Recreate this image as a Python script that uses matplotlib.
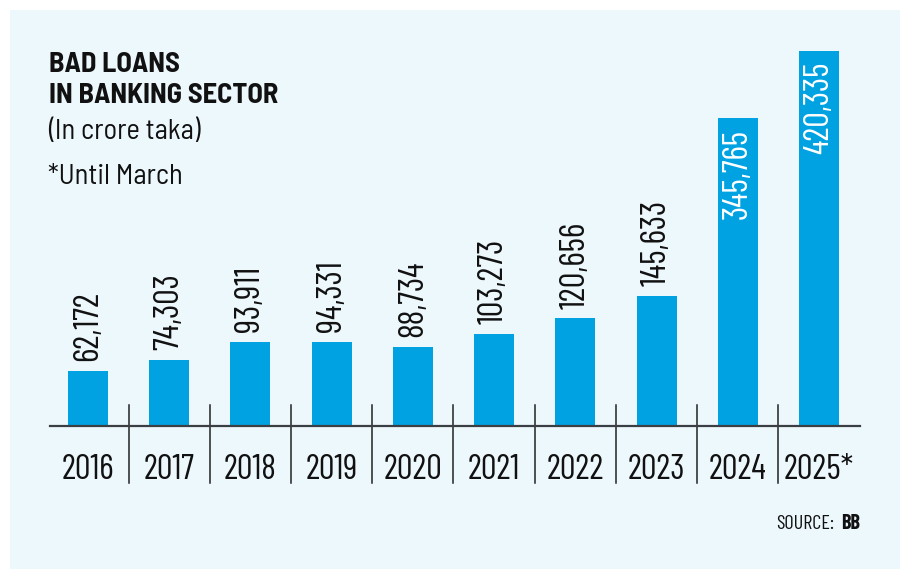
import matplotlib
matplotlib.use("Agg")
import matplotlib.pyplot as plt
from matplotlib.patches import Rectangle

years = ["2016", "2017", "2018", "2019", "2020", "2021", "2022", "2023", "2024", "2025*"]
bad_loans = [62172, 74303, 93911, 94331, 88734, 103273, 120656, 145633, 345765, 420335]
inside_label = [False] * 8 + [True, True]

plt.rcParams['font.family'] = ['Barlow Condensed', 'DejaVu Sans']
TITLE_FONT = ['Barlow Semi Condensed', 'Barlow Condensed', 'DejaVu Sans']

W, H = 910, 580
BAR = '#00a2e2'
PANEL = '#edf8fd'
INK = '#111111'

fig = plt.figure(figsize=(W / 100, H / 100), dpi=100)
fig.patch.set_facecolor('white')
fig.patches.append(Rectangle((10 / W, 11 / H), 890 / W, 559 / H,
                             transform=fig.transFigure, facecolor=PANEL,
                             edgecolor='none', zorder=-10))

# axes in pixel terms: baseline y=426, top y=40, x from 50 to 860
ax = fig.add_axes([50 / W, (H - 426) / H, 810 / W, 386 / H])
ax.set_facecolor('none')
x = list(range(len(years)))
ax.bar(x, bad_loans, width=0.493, color=BAR, zorder=2)
ax.set_xlim(-0.468, 9.505)
ax.set_ylim(0, 420335 * 386 / 375)

for s in ['top', 'right', 'left']:
    ax.spines[s].set_visible(False)
ax.spines['bottom'].set_color('#3a3f44')
ax.spines['bottom'].set_linewidth(1.6)
ax.set_xticks([])
ax.set_yticks([])

# separators between years
xt = ax.get_xaxis_transform()
for i in range(len(years) - 1):
    ax.plot([i + 0.5, i + 0.5], [21 / 386, -57 / 386], transform=xt,
            color='#222222', lw=1.1, clip_on=False)

for i, (yr, v, inside) in enumerate(zip(years, bad_loans, inside_label)):
    ax.text(i, -44 / 386, yr, transform=xt, ha='center', va='center',
            fontsize=25, color=INK)
    label = f"{v:,}"
    if inside:
        ax.annotate(label, (i, v), xytext=(0, -8), textcoords='offset points',
                    rotation=90, ha='center', va='top', fontsize=25,
                    color='white')
    else:
        ax.annotate(label, (i, v), xytext=(0, 7), textcoords='offset points',
                    rotation=90, ha='center', va='bottom', fontsize=25,
                    color=INK)

# titles
fig.text(49 / W, (H - 72) / H, "BAD LOANS", fontsize=20.5, fontweight='bold',
         color=INK, va='baseline', family=TITLE_FONT)
fig.text(49 / W, (H - 103) / H, "IN BANKING SECTOR", fontsize=20.5,
         fontweight='bold', color=INK, va='baseline', family=TITLE_FONT)
fig.text(48 / W, (H - 139) / H, "(In crore taka)", fontsize=20.5,
         color=INK, va='baseline', family=TITLE_FONT)
fig.text(48 / W, (H - 184) / H, "*Until March", fontsize=20.5,
         color=INK, va='baseline', family=TITLE_FONT)

# source
bb = fig.text(860 / W, (H - 529) / H, "BB", fontsize=14.5, fontweight='bold',
              color=INK, ha='right', va='baseline')
fig.canvas.draw()
bx = bb.get_window_extent().x0
fig.text((bx - 7) / W, (H - 529) / H, "SOURCE:", fontsize=14.5,
         color=INK, ha='right', va='baseline')

fig.savefig("out.png", dpi=100, facecolor='white')
